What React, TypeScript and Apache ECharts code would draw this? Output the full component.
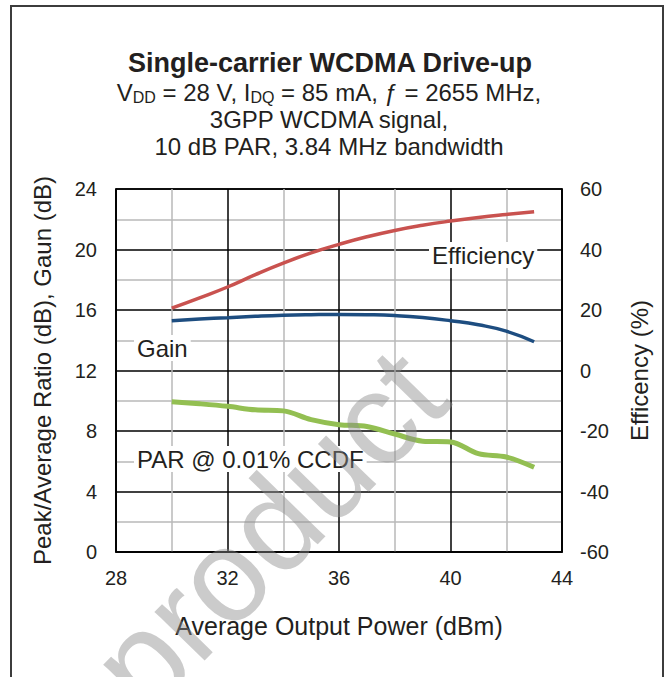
import React, { useEffect, useRef } from "react";
import * as echarts from "echarts";

const FONT = "'Liberation Sans', Arial, Helvetica, sans-serif";

// X: average output power (dBm)
const powerDbm = [30, 31, 32, 33, 34, 35, 36, 37, 38, 39, 40, 41, 42, 43];
// Right axis: efficiency (%)
const efficiencyPct = [20.6, 24.0, 27.6, 31.7, 35.5, 38.9, 41.7, 44.2, 46.3, 48.0, 49.4, 50.6, 51.6, 52.5];
// Left axis: gain (dB)
const gainDb = [15.29, 15.4, 15.49, 15.58, 15.65, 15.69, 15.71, 15.69, 15.63, 15.5, 15.29, 15.02, 14.6, 13.9];
// Left axis: PAR @ 0.01% CCDF (dB)
const parDb = [9.94, 9.8, 9.63, 9.4, 9.33, 8.75, 8.42, 8.3, 7.8, 7.33, 7.28, 6.5, 6.28, 5.6];

const xRange = { min: 28, max: 44, interval: 4 };
const leftRange = { min: 0, max: 24, interval: 4 };
const rightRange = { min: -60, max: 60, interval: 20 };

const titleText = "Single-carrier WCDMA Drive-up";
const subtitleLine2 = "3GPP WCDMA signal,";
const subtitleLine3 = "10 dB PAR, 3.84 MHz bandwidth";
const xAxisName = "Average Output Power (dBm)";
const leftAxisName = "Peak/Average Ratio (dB), Gaun (dB)";
const rightAxisName = "Efficency (%)";
const seriesLabels = ["Efficiency", "Gain", "PAR @ 0.01% CCDF"];
const watermarkText = "product";

const zip = (xs: number[], ys: number[]) => xs.map((x, i) => [x, ys[i]]);

export default function App() {
  const ref = useRef<HTMLDivElement>(null);

  useEffect(() => {
    if (!ref.current) return;
    const chart = echarts.init(ref.current, undefined, { renderer: "svg" });

    const labelStyle = {
      fontSize: 24,
      fontFamily: FONT,
      fill: "#231f20",
      backgroundColor: "#fff",
      padding: [1, 3, 1, 3],
      lineHeight: 24,
      verticalAlign: "middle",
    };

    const axisLabel = { fontSize: 20, fontFamily: FONT, color: "#231f20" };
    const axisNameStyle = { fontSize: 24, fontFamily: FONT, color: "#231f20" };

    chart.setOption({
      animation: false,
      backgroundColor: "#fff",
      grid: {
        left: 116,
        right: 106,
        top: 189,
        bottom: 125,
        show: true,
        borderColor: "#000",
        borderWidth: 1.5,
        backgroundColor: "transparent",
      },
      xAxis: {
        type: "value",
        min: xRange.min,
        max: xRange.max,
        interval: xRange.interval,
        name: xAxisName,
        nameLocation: "middle",
        nameGap: 61,
        nameTextStyle: { ...axisNameStyle, fontSize: 25 },
        axisLine: { show: true, onZero: false, lineStyle: { color: "#000", width: 1.5 } },
        axisTick: { show: false },
        axisLabel: { ...axisLabel, margin: 16 },
        splitLine: { show: true, lineStyle: { color: "#000", width: 1.5 } },
        minorTick: { show: true, splitNumber: 2, length: 0 },
        minorSplitLine: { show: true, lineStyle: { color: "#b8b8b8", width: 1.5 } },
      },
      yAxis: [
        {
          type: "value",
          min: leftRange.min,
          max: leftRange.max,
          interval: leftRange.interval,
          position: "left",
          name: leftAxisName,
          nameLocation: "middle",
          nameGap: 62,
          nameRotate: 90,
          nameTextStyle: axisNameStyle,
          axisLine: { show: true, lineStyle: { color: "#000", width: 1.5 } },
          axisTick: { show: false },
          axisLabel: { ...axisLabel, margin: 19 },
          splitLine: { show: true, lineStyle: { color: "#000", width: 1.5 } },
          minorTick: { show: true, splitNumber: 2, length: 0 },
          minorSplitLine: { show: true, lineStyle: { color: "#b8b8b8", width: 1.5 } },
        },
        {
          type: "value",
          min: rightRange.min,
          max: rightRange.max,
          interval: rightRange.interval,
          position: "right",
          name: rightAxisName,
          nameLocation: "middle",
          nameGap: 65,
          nameRotate: 90,
          nameTextStyle: axisNameStyle,
          axisLine: { show: true, lineStyle: { color: "#000", width: 1.5 } },
          axisTick: { show: false },
          axisLabel: { ...axisLabel, margin: 18 },
          splitLine: { show: false },
        },
      ],
      series: [
        {
          type: "line",
          name: seriesLabels[0],
          yAxisIndex: 1,
          data: zip(powerDbm, efficiencyPct),
          smooth: 0.5,
          showSymbol: false,
          lineStyle: { color: "#c9524f", width: 3.5 },
          itemStyle: { color: "#c9524f" },
          z: 3,
        },
        {
          type: "line",
          name: seriesLabels[1],
          yAxisIndex: 0,
          data: zip(powerDbm, gainDb),
          smooth: 0.5,
          showSymbol: false,
          lineStyle: { color: "#1d4d80", width: 3.5 },
          itemStyle: { color: "#1d4d80" },
          z: 3,
        },
        {
          type: "line",
          name: seriesLabels[2],
          yAxisIndex: 0,
          data: zip(powerDbm, parDb),
          smooth: 0.35,
          showSymbol: false,
          lineStyle: { color: "#93bf52", width: 5 },
          itemStyle: { color: "#93bf52" },
          z: 3,
        },
      ],
      graphic: [
        {
          type: "rect",
          shape: { x: 11, y: 6, width: 652, height: 700 },
          style: { fill: "none", stroke: "#3c3c3c", lineWidth: 2 },
          silent: true,
        },
        {
          type: "text",
          x: 330,
          y: 63,
          style: {
            text: titleText,
            fontSize: 27,
            fontWeight: "bold",
            fontFamily: FONT,
            fill: "#231f20",
            align: "center",
            verticalAlign: "middle",
          },
        },
        {
          type: "text",
          x: 329,
          y: 92,
          style: {
            text: "{n|V}{s|DD}{n| = 28 V, I}{s|DQ}{n| = 85 mA, }{n|ƒ}{n| = 2655 MHz,}",
            fontFamily: FONT,
            align: "center",
            verticalAlign: "middle",
            fill: "#231f20",
            rich: {
              n: { fontSize: 24, fontFamily: FONT, lineHeight: 26, fill: "#231f20" },
              s: { fontSize: 16, fontFamily: FONT, lineHeight: 10, verticalAlign: "bottom", fill: "#231f20" },
            },
          },
        },
        {
          type: "text",
          x: 329,
          y: 119,
          style: {
            text: subtitleLine2,
            fontSize: 24,
            fontFamily: FONT,
            fill: "#231f20",
            align: "center",
            verticalAlign: "middle",
          },
        },
        {
          type: "text",
          x: 329,
          y: 146,
          style: {
            text: subtitleLine3,
            fontSize: 24,
            fontFamily: FONT,
            fill: "#231f20",
            align: "center",
            verticalAlign: "middle",
          },
        },
        { type: "text", x: 429, y: 255, z: 5, style: { ...labelStyle, text: seriesLabels[0] } },
        { type: "text", x: 134, y: 348, z: 5, style: { ...labelStyle, text: seriesLabels[1] } },
        { type: "text", x: 134, y: 459, z: 5, style: { ...labelStyle, text: seriesLabels[2] } },
        {
          type: "text",
          x: 268,
          y: 530,
          z: 10,
          rotation: 0.8,
          silent: true,
          style: {
            text: watermarkText,
            fontSize: 132,
            fontFamily: FONT,
            fill: "#8c8c8c",
            opacity: 0.45,
            align: "center",
            verticalAlign: "middle",
          },
        },
      ],
    });

    return () => chart.dispose();
  }, []);

  return (
    <div
      ref={ref}
      style={{ position: "absolute", left: 0, top: 0, width: 668, height: 677 }}
    />
  );
}
